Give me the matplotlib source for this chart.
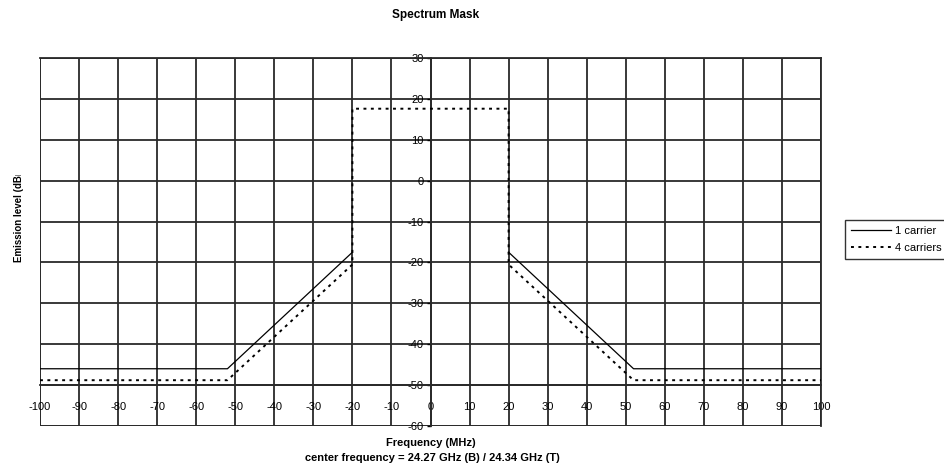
import matplotlib
matplotlib.use("Agg")
import matplotlib.pyplot as plt
from matplotlib.transforms import Bbox, TransformedBbox
import numpy as np

plt.rcParams['font.family'] = ['Liberation Sans', 'DejaVu Sans']
plt.rcParams['axes.unicode_minus'] = False

# Data (frequency MHz, emission level dBm)
freq_1c = [-100, -52, -20, np.nan, 20, 52, 100]
level_1c = [-46, -46, -17.5, np.nan, -17.5, -46, -46]
freq_4c = [-100, -52, -20, -20, 20, 20, 52, 100]
level_4c = [-48.8, -48.8, -20.5, 17.6, 17.6, -20.5, -48.8, -48.8]

x_ticks = list(range(-100, 101, 10))
y_ticks = list(range(-60, 31, 10))

W, H = 944, 467
fig = plt.figure(figsize=(9.44, 4.67), dpi=100)
ax = fig.add_axes([40/W, 1-426/H, (821-40)/W, (426-58)/H])

ax.set_xlim(-100, 100)
ax.set_ylim(-60, 30)
ax.set_xticks(x_ticks)
ax.set_yticks(y_ticks)
ax.grid(True, color='#2a2a2a', lw=1.3, zorder=0)

ax.plot(freq_1c, level_1c, color='black', lw=0.9, label='1 carrier', zorder=3)
ax.plot(freq_4c, level_4c, color='black', lw=1.4, ls=(0, (1.5, 2.3)),
        label='4 carriers', zorder=3)

for s in ['top', 'right', 'left', 'bottom']:
    ax.spines[s].set_color('#2a2a2a')
    ax.spines[s].set_linewidth(1.3)
ax.spines['left'].set_position(('data', 0))
ax.spines['bottom'].set_position(('data', -50))

# frame around plot area
for v in (-100, 100):
    ax.axvline(v, color='#2a2a2a', lw=1.3, zorder=1)
for h in (-60, 30):
    ax.axhline(h, color='#2a2a2a', lw=1.3, zorder=1)

ax.tick_params(axis='y', direction='out', length=3, width=1, pad=2, labelsize=8)
ax.tick_params(axis='x', direction='out', length=0, pad=12, labelsize=8)

fig.text(436/W, 1-15/H, 'Spectrum Mask', ha='center', va='center',
         fontsize=8.5, fontweight='bold')
fig.text(431/W, 1-443/H, 'Frequency (MHz)', ha='center', va='center',
         fontsize=8, fontweight='bold')
fig.text(432/W, 1-458/H, 'center frequency = 24.27 GHz (B) / 24.34 GHz (T)',
         ha='center', va='center', fontsize=8, fontweight='bold')
yl = fig.text(19/W, 1-262/H, 'Emission level (dBm)', ha='center', va='bottom',
              rotation=90, fontsize=7, fontweight='bold')
yl.set_clip_box(TransformedBbox(Bbox([[0, 0], [40/W, 1-175/H]]), fig.transFigure))
yl.set_clip_on(True)

leg = fig.legend(loc='upper left', bbox_to_anchor=(845/W, 1-220/H),
                 fontsize=8, frameon=True, fancybox=False, edgecolor='black',
                 handlelength=3.6, handletextpad=0.4, borderpad=0.5,
                 labelspacing=0.7, borderaxespad=0)
leg.get_frame().set_linewidth(1.0)

fig.savefig('out.png', dpi=100)
